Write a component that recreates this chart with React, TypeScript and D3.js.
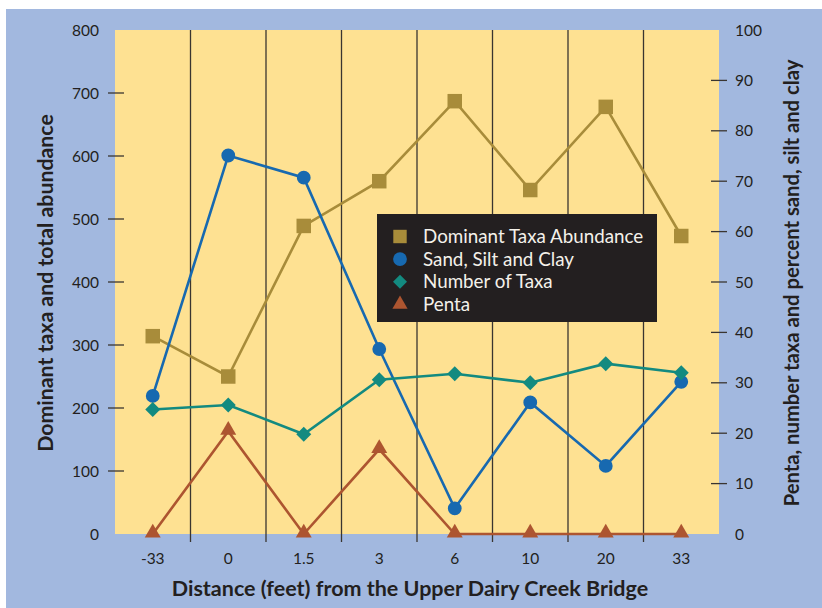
import React from "react";
import * as d3 from "d3";

const categories = ["-33", "0", "1.5", "3", "6", "10", "20", "33"];
const dominantTaxa = [314, 250, 489, 560, 687, 546, 678, 473];
const sandSiltClay = [27.4, 75.1, 70.7, 36.7, 5.1, 26.1, 13.5, 30.2];
const numberOfTaxa = [24.7, 25.6, 19.8, 30.6, 31.8, 30.0, 33.8, 32.0];
const penta = [0, 20.4, 0, 16.8, 0, 0, 0, 0];
const leftTicks = [0, 100, 200, 300, 400, 500, 600, 700, 800];
const rightTicks = [0, 10, 20, 30, 40, 50, 60, 70, 80, 90, 100];
const legendLabels = ["Dominant Taxa Abundance", "Sand, Silt and Clay", "Number of Taxa", "Penta"];

const W = 822, H = 608;
const PL = 115, PR = 719, PT = 30, PB = 534;
const FONT = "Lato, 'Open Sans', sans-serif";
const TXT = "#231f20";
const C_DOM = "#a88c3a";
const C_SAND = "#1769b0";
const C_NUM = "#138a80";
const C_PENTA = "#ad5530";

export default function App() {
  const x = d3.scaleBand<string>().domain(categories).range([PL, PR]);
  const cx = (c: string) => (x(c) as number) + x.bandwidth() / 2;
  const yL = d3.scaleLinear().domain([0, 800]).range([PB, PT]);
  const yR = d3.scaleLinear().domain([0, 100]).range([PB, PT]);

  const lineL = d3.line<number>().x((_, i) => cx(categories[i])).y((v) => yL(v));
  const lineR = d3.line<number>().x((_, i) => cx(categories[i])).y((v) => yR(v));

  const sq = d3.symbol().type(d3.symbolSquare).size(210)() as string;
  const circ = d3.symbol().type(d3.symbolCircle).size(150)() as string;
  const tri = d3.symbol().type(d3.symbolTriangle).size(110)() as string;
  const diamond = "M0,-7.5L7.5,0L0,7.5L-7.5,0Z";

  const boundaries = categories.slice(1).map((c) => x(c) as number);

  const legendX = 377, legendY = 214;
  const legendRows = [
    { color: C_DOM, path: d3.symbol().type(d3.symbolSquare).size(180)() as string },
    { color: C_SAND, path: d3.symbol().type(d3.symbolCircle).size(150)() as string },
    { color: C_NUM, path: "M0,-7L7,0L0,7L-7,0Z" },
    { color: C_PENTA, path: d3.symbol().type(d3.symbolTriangle).size(100)() as string },
  ];

  return (
    <svg width={W} height={H} style={{ position: "absolute", left: 0, top: 0 }} fontFamily={FONT}>
      <rect x={0} y={0} width={W} height={H} fill="#ffffff" />
      <rect x={6} y={9} width={W - 6} height={H - 9} fill="#a2b8df" />
      <rect x={PL} y={PT} width={PR - PL} height={PB - PT} fill="#fee192" />

      {/* vertical separators */}
      {boundaries.map((b, i) => (
        <line key={"b" + i} x1={b} x2={b} y1={PT} y2={PB + 8} stroke="#3a3530" strokeWidth={1.3} />
      ))}

      {/* left ticks */}
      {leftTicks.map((t) => (
        <g key={"l" + t}>
          {t > 0 && t < 800 && (
            <line x1={PL - 7} x2={PL + 9} y1={yL(t)} y2={yL(t)} stroke="#3a3530" strokeWidth={1.3} />
          )}
          <text x={99} y={yL(t)} dy="0.36em" textAnchor="end" fontSize={15.5} fill={TXT}>{t}</text>
        </g>
      ))}
      {/* right ticks */}
      {rightTicks.map((t) => (
        <g key={"r" + t}>
          {t > 0 && t < 100 && (
            <line x1={PR - 8} x2={PR + 8} y1={yR(t)} y2={yR(t)} stroke="#3a3530" strokeWidth={1.3} />
          )}
          <text x={735} y={yR(t)} dy="0.36em" textAnchor="start" fontSize={15.5} fill={TXT}>{t}</text>
        </g>
      ))}
      {/* x labels */}
      {categories.map((c) => (
        <text key={"x" + c} x={cx(c)} y={564} textAnchor="middle" fontSize={15.5} fill={TXT}>{c}</text>
      ))}

      {/* lines */}
      <path d={lineL(dominantTaxa) as string} fill="none" stroke={C_DOM} strokeWidth={2.6} />
      <path d={lineR(sandSiltClay) as string} fill="none" stroke={C_SAND} strokeWidth={2.6} />
      <path d={lineR(numberOfTaxa) as string} fill="none" stroke={C_NUM} strokeWidth={2.6} />
      <path d={lineR(penta) as string} fill="none" stroke={C_PENTA} strokeWidth={2.6} />

      {/* markers */}
      {dominantTaxa.map((v, i) => (
        <path key={"d" + i} d={sq} transform={`translate(${cx(categories[i])},${yL(v)})`} fill={C_DOM} />
      ))}
      {sandSiltClay.map((v, i) => (
        <path key={"s" + i} d={circ} transform={`translate(${cx(categories[i])},${yR(v)})`} fill={C_SAND} />
      ))}
      {numberOfTaxa.map((v, i) => (
        <path key={"n" + i} d={diamond} transform={`translate(${cx(categories[i])},${yR(v)})`} fill={C_NUM} />
      ))}
      {penta.map((v, i) => (
        <path key={"p" + i} d={tri} transform={`translate(${cx(categories[i])},${yR(v) - 1})`} fill={C_PENTA} />
      ))}

      {/* legend */}
      <rect x={legendX} y={legendY} width={280} height={108} fill="#231f20" />
      {legendLabels.map((lab, i) => (
        <g key={"lg" + i} transform={`translate(0,${236.5 + i * 22.6})`}>
          <path d={legendRows[i].path} transform={`translate(400,0)`} fill={legendRows[i].color} />
          <text x={423} y={0} dy="0.36em" fontSize={18.8} fill="#f4f1ea">{lab}</text>
        </g>
      ))}

      {/* axis titles */}
      <text x={410} y={596} textAnchor="middle" fontSize={21.5} fontWeight="bold" fill={TXT}>
        Distance (feet) from the Upper Dairy Creek Bridge
      </text>
      <text transform={`translate(53,283) rotate(-90)`} textAnchor="middle" fontSize={21.3} fontWeight="bold" fill={TXT}>
        Dominant taxa and total abundance
      </text>
      <text transform={`translate(799,283) rotate(-90)`} textAnchor="middle" fontSize={20.2} fontWeight="bold" fill={TXT}>
        Penta, number taxa and percent sand, silt and clay
      </text>
    </svg>
  );
}
